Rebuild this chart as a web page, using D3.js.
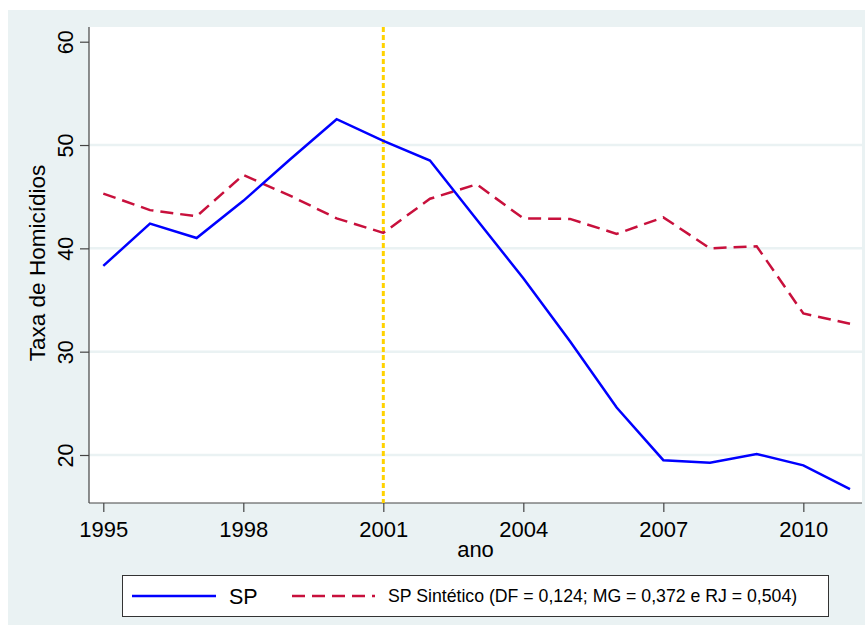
<!DOCTYPE html>
<html>
<head>
<meta charset="utf-8">
<script src="https://cdn.jsdelivr.net/npm/d3@7"></script>
<style>
  body { margin: 0; background: #fff; }
  text { font-family: "Liberation Sans", Arial, sans-serif; fill: #000; }
</style>
</head>
<body>
<div id="chart"></div>
<script>
// Data
const years = [1995, 1996, 1997, 1998, 1999, 2000, 2001, 2002, 2003, 2004, 2005, 2006, 2007, 2008, 2009, 2010, 2011];
const spValues = [38.3, 42.4, 41.0, 44.6, 48.6, 52.5, 50.4, 48.5, 42.8, 37.1, 31.0, 24.6, 19.5, 19.25, 20.1, 19.0, 16.7];
const synthValues = [45.3, 43.7, 43.1, 47.1, 45.1, 42.9, 41.5, 44.8, 46.2, 42.9, 42.85, 41.4, 43.0, 40.0, 40.2, 33.7, 32.7];
const xTicks = [1995, 1998, 2001, 2004, 2007, 2010];
const yTicks = [20, 30, 40, 50, 60];
const gridValues = [20, 30, 40, 50];
const treatmentYear = 2001;
const legendLabels = ["SP", "SP Sintético (DF = 0,124; MG = 0,372 e RJ = 0,504)"];

const width = 865;
const height = 625;
const plot = { left: 89, top: 27, right: 862, bottom: 503 };

const bgColor = "#eaf2f3";
const blue = "#0000ff";
const red = "#c8103c";

const svg = d3.select("#chart")
  .append("svg")
  .attr("width", width)
  .attr("height", height);

// Outer background and plot region
svg.append("rect")
  .attr("x", 8).attr("y", 10)
  .attr("width", width - 8).attr("height", height - 10)
  .attr("fill", bgColor);

svg.append("rect")
  .attr("x", plot.left).attr("y", plot.top)
  .attr("width", plot.right - plot.left).attr("height", plot.bottom - plot.top)
  .attr("fill", "#fff");

const x = d3.scaleLinear().domain([1995, 2011]).range([103.3, 850]);
const y = d3.scaleLinear().domain([20, 60]).range([455, 41.7]);

// Grid lines
svg.append("g")
  .selectAll("line")
  .data(gridValues)
  .join("line")
  .attr("x1", plot.left)
  .attr("x2", plot.right)
  .attr("y1", d => y(d))
  .attr("y2", d => y(d))
  .attr("stroke", bgColor)
  .attr("stroke-width", 2.5);

// Y axis
const yAxis = svg.append("g")
  .attr("transform", `translate(${plot.left},0)`)
  .call(d3.axisLeft(y).tickValues(yTicks).tickSize(9).tickFormat(d3.format("d")));
yAxis.select(".domain").remove();
yAxis.selectAll(".tick line").attr("stroke", "#444").attr("stroke-width", 1.2);
yAxis.selectAll(".tick text")
  .attr("transform", "rotate(-90)")
  .attr("x", 0)
  .attr("y", -16)
  .attr("dy", 0)
  .attr("text-anchor", "middle")
  .style("font-size", "21.5px");

// X axis
const xAxis = svg.append("g")
  .attr("transform", `translate(0,${plot.bottom})`)
  .call(d3.axisBottom(x).tickValues(xTicks).tickSize(9).tickFormat(d3.format("d")));
xAxis.select(".domain").remove();
xAxis.selectAll(".tick line").attr("stroke", "#444").attr("stroke-width", 1.2);
xAxis.selectAll(".tick text")
  .attr("y", 34)
  .attr("dy", 0)
  .style("font-size", "22px");

// Axis lines
svg.append("line")
  .attr("x1", plot.left).attr("x2", plot.left)
  .attr("y1", plot.top).attr("y2", plot.bottom)
  .attr("stroke", "#444").attr("stroke-width", 1.2);
svg.append("line")
  .attr("x1", plot.left).attr("x2", plot.right)
  .attr("y1", plot.bottom).attr("y2", plot.bottom)
  .attr("stroke", "#444").attr("stroke-width", 1.2);

// Axis titles
svg.append("text")
  .attr("transform", `translate(45,${(plot.top + plot.bottom) / 2 - 2}) rotate(-90)`)
  .attr("text-anchor", "middle")
  .style("font-size", "22.5px")
  .text("Taxa de Homicídios");

svg.append("text")
  .attr("x", (plot.left + plot.right) / 2)
  .attr("y", 557)
  .attr("text-anchor", "middle")
  .style("font-size", "22px")
  .text("ano");

// Treatment year marker
svg.append("line")
  .attr("x1", x(treatmentYear)).attr("x2", x(treatmentYear))
  .attr("y1", plot.top).attr("y2", plot.bottom)
  .attr("stroke", "#ffd200")
  .attr("stroke-width", 3)
  .attr("stroke-dasharray", "5,3");

// Series lines
const line = d3.line()
  .x((d, i) => x(years[i]))
  .y(d => y(d));

svg.append("path")
  .datum(synthValues)
  .attr("d", line)
  .attr("fill", "none")
  .attr("stroke", red)
  .attr("stroke-width", 2.5)
  .attr("stroke-dasharray", "13,7");

svg.append("path")
  .datum(spValues)
  .attr("d", line)
  .attr("fill", "none")
  .attr("stroke", blue)
  .attr("stroke-width", 2.5);

// Legend
const legend = svg.append("g");
legend.append("rect")
  .attr("x", 122.5).attr("y", 575.5)
  .attr("width", 706).attr("height", 41)
  .attr("fill", "#fff")
  .attr("stroke", "#333")
  .attr("stroke-width", 1);

legend.append("line")
  .attr("x1", 132).attr("x2", 216)
  .attr("y1", 596).attr("y2", 596)
  .attr("stroke", blue).attr("stroke-width", 2.5);
legend.append("text")
  .attr("x", 229).attr("y", 604)
  .style("font-size", "21.5px")
  .text(legendLabels[0]);

legend.append("line")
  .attr("x1", 292).attr("x2", 375)
  .attr("y1", 596).attr("y2", 596)
  .attr("stroke", red).attr("stroke-width", 2.5)
  .attr("stroke-dasharray", "13,7");
legend.append("text")
  .attr("x", 388).attr("y", 602)
  .style("font-size", "17.7px")
  .text(legendLabels[1]);
</script>
</body>
</html>
